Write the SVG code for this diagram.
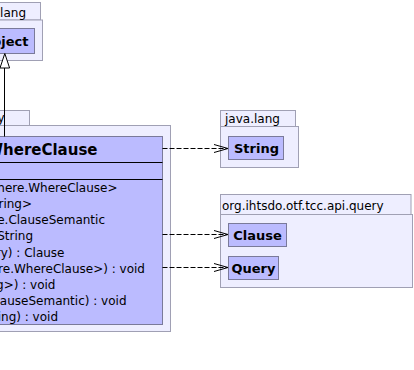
<svg xmlns="http://www.w3.org/2000/svg" width="414" height="370" viewBox="0 0 414 370">
  <style>
    .pkg { fill: #EEEEFF; stroke: #A0A0B4; stroke-width: 1; }
    .cls { fill: #BBBBFF; stroke: #7A7A9A; stroke-width: 1; }
    .sep { stroke: #000000; stroke-width: 1; }
    .pkgname { font-family: "DejaVu Sans", sans-serif; font-size: 12px; fill: #000000; }
    .clsname { font-family: "DejaVu Sans", sans-serif; font-weight: bold; font-size: 13px; fill: #000000; }
    .bigname { font-family: "DejaVu Sans", sans-serif; font-weight: bold; font-size: 15px; fill: #000000; }
    .member { font-family: "DejaVu Sans", sans-serif; font-size: 12px; fill: #000000; text-anchor: end; }
    .dep { fill: none; stroke: #000000; stroke-width: 1; stroke-dasharray: 5,2; }
    .head { fill: none; stroke: #000000; stroke-width: 1; }
    .gen { fill: none; stroke: #000000; stroke-width: 1; }
  </style>

  <!-- package java.lang (top left) -->
  <g id="pkg-java-lang-top">
    <rect class="pkg" x="-60" y="2.5" width="100.5" height="17.5"/>
    <rect class="pkg" x="-60" y="20" width="102.5" height="40.5"/>
    <text class="pkgname" x="26" y="17" text-anchor="end">java.lang</text>
  </g>
  <g id="node-Object">
    <rect class="cls" x="-40" y="28.5" width="74.5" height="25"/>
    <text class="clsname" x="28.5" y="45.5" text-anchor="end">Object</text>
  </g>

  <!-- package org.ihtsdo.otf.tcc.api.query.Where (left) -->
  <g id="pkg-where">
    <rect class="pkg" x="-60" y="110.5" width="89.5" height="15"/>
    <rect class="pkg" x="-60" y="125.5" width="230.5" height="206"/>
    <text class="pkgname" x="4.5" y="122" text-anchor="end">org.ihtsdo.otf.tcc.api.query</text>
  </g>
  <g id="node-WhereClause">
    <rect class="cls" x="-80" y="136.5" width="242.5" height="188"/>
    <line class="sep" x1="-80" y1="162.5" x2="162.5" y2="162.5"/>
    <line class="sep" x1="-80" y1="179.5" x2="162.5" y2="179.5"/>
    <text class="bigname" x="97.5" y="154.5" text-anchor="end">Where.WhereClause</text>
    <text class="member" x="117.5" y="192">List&lt;Where.WhereClause&gt;</text>
    <text class="member" x="32" y="208">List&lt;String&gt;</text>
    <text class="member" x="105" y="224">Where.ClauseSemantic</text>
    <text class="member" x="33" y="240">: String</text>
    <text class="member" x="64.5" y="256.5">query) : Clause</text>
    <text class="member" x="145" y="272.5">List&lt;Where.WhereClause&gt;) : void</text>
    <text class="member" x="55.5" y="288.5">String&gt;) : void</text>
    <text class="member" x="126.5" y="304.5">Where.ClauseSemantic) : void</text>
    <text class="member" x="58" y="320.5">String) : void</text>
  </g>

  <!-- package java.lang (right) -->
  <g id="pkg-java-lang">
    <rect class="pkg" x="220.5" y="110.5" width="75" height="16"/>
    <rect class="pkg" x="220.5" y="126.5" width="78" height="41"/>
    <text class="pkgname" x="225" y="122.5">java.lang</text>
  </g>
  <g id="node-String">
    <rect class="cls" x="228.5" y="136.5" width="55" height="23"/>
    <text class="clsname" x="256.5" y="152.5" text-anchor="middle">String</text>
  </g>

  <!-- package org.ihtsdo.otf.tcc.api.query (right) -->
  <g id="pkg-query">
    <rect class="pkg" x="220.5" y="194.5" width="190.5" height="20"/>
    <rect class="pkg" x="220.5" y="214.5" width="192" height="73"/>
    <text class="pkgname" x="222" y="210">org.ihtsdo.otf.tcc.api.query</text>
  </g>
  <g id="node-Clause">
    <rect class="cls" x="228.5" y="223.5" width="58" height="23"/>
    <text class="clsname" x="257.5" y="239.5" text-anchor="middle">Clause</text>
  </g>
  <g id="node-Query">
    <rect class="cls" x="228.5" y="256.5" width="50" height="23"/>
    <text class="clsname" x="253.5" y="272.5" text-anchor="middle">Query</text>
  </g>

  <!-- connectors -->
  <g id="connectors">
    <!-- WhereClause extends Object -->
    <line class="gen" x1="4.5" y1="68" x2="4.5" y2="136.5"/>
    <polygon points="4.8,53.5 0,68 9.6,68" fill="#FFFFFF" stroke="#000000" stroke-width="1"/>
    <!-- dependencies -->
    <line class="dep" x1="162.5" y1="148.5" x2="228" y2="148.5"/>
    <polyline class="head" points="214,144.5 228,148.5 214,152.5"/>
    <line class="dep" x1="162.5" y1="234.5" x2="228" y2="234.5"/>
    <polyline class="head" points="214,230.5 228,234.5 214,238.5"/>
    <line class="dep" x1="162.5" y1="267.5" x2="228" y2="267.5"/>
    <polyline class="head" points="214,263.5 228,267.5 214,271.5"/>
  </g>
</svg>
